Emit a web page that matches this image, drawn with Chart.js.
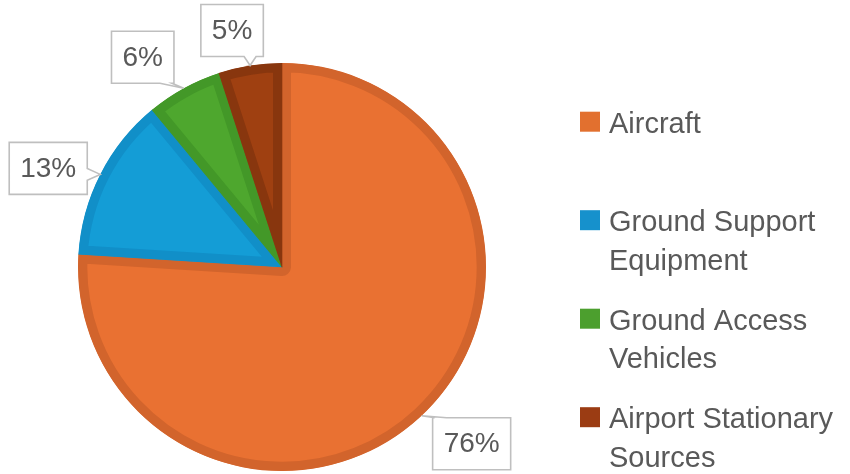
<!DOCTYPE html>
<html>
<head>
<meta charset="utf-8">
<script src="https://cdn.jsdelivr.net/npm/chart.js@4.4.1/dist/chart.umd.min.js"></script>
<style>
  html, body { margin: 0; padding: 0; background: #ffffff; }
  #wrap { width: 850px; height: 474px; position: relative; }
</style>
</head>
<body>
<div id="wrap"><canvas id="c"></canvas></div>
<script>
// Airport emission sources, share of total (%)
const categories = ['Aircraft', 'Ground Support Equipment', 'Ground Access Vehicles', 'Airport Stationary Sources'];
const shares = [76, 13, 6, 5];

// Slice fills, slice edge tones and legend swatches
const sliceColors = ['#E97132', '#149DD6', '#4EA72E', '#9F4011'];
const sliceEdges = ['#D2642C', '#118FC8', '#439828', '#88360E'];
const swatchColors = ['#E2702F', '#1691CC', '#4C9F2E', '#9B3C13'];

const TEXT_GREY = '#595959';
const LABEL_FONT = '28px "Liberation Sans", Arial, sans-serif';
const LEGEND_FONT = '29px "Liberation Sans", Arial, sans-serif';

// Where each callout box sits relative to the point on the rim it refers to
const calloutOffsets = [[50, 28], [-52, -6], [-41, -31], [-18, -35]];

function clamp(v, lo, hi) { return Math.max(lo, Math.min(hi, v)); }

// Rectangle with a small wedge pointing at (tx, ty)
function calloutPath(ctx, L, T, R, B, tx, ty) {
  const half = 6, inset = 8;
  let side;
  if (ty > B) side = 'bottom';
  else if (ty < T) side = 'top';
  else if (tx > R) side = 'right';
  else side = 'left';
  ctx.beginPath();
  ctx.moveTo(L, T);
  if (side === 'top') {
    const bx = clamp(tx, L + inset, R - inset);
    ctx.lineTo(bx - half, T); ctx.lineTo(tx, ty); ctx.lineTo(bx + half, T);
  }
  ctx.lineTo(R, T);
  if (side === 'right') {
    const by = clamp(ty, T + inset, B - inset);
    ctx.lineTo(R, by - half); ctx.lineTo(tx, ty); ctx.lineTo(R, by + half);
  }
  ctx.lineTo(R, B);
  if (side === 'bottom') {
    const bx = clamp(tx, L + inset, R - inset);
    ctx.lineTo(bx + half, B); ctx.lineTo(tx, ty); ctx.lineTo(bx - half, B);
  }
  ctx.lineTo(L, B);
  if (side === 'left') {
    const by = clamp(ty, T + inset, B - inset);
    ctx.lineTo(L, by + half); ctx.lineTo(tx, ty); ctx.lineTo(L, by - half);
  }
  ctx.closePath();
}

const calloutLabels = {
  id: 'calloutLabels',
  afterDatasetsDraw(chart) {
    const ctx = chart.ctx;
    const meta = chart.getDatasetMeta(0);
    const values = chart.data.datasets[0].data;
    const total = values.reduce((a, b) => a + b, 0);
    ctx.save();
    ctx.font = LABEL_FONT;
    meta.data.forEach((arc, i) => {
      const p = arc.getProps(['x', 'y', 'startAngle', 'endAngle', 'outerRadius'], true);
      const mid = (p.startAngle + p.endAngle) / 2;
      const tx = p.x + Math.cos(mid) * p.outerRadius;
      const ty = p.y + Math.sin(mid) * p.outerRadius;
      const text = Math.round(values[i] / total * 100) + '%';
      const w = ctx.measureText(text).width + 22;
      const h = 52;
      const cx = tx + calloutOffsets[i][0];
      const cy = ty + calloutOffsets[i][1];
      const L = cx - w / 2, R = cx + w / 2, T = cy - h / 2, B = cy + h / 2;
      calloutPath(ctx, L, T, R, B, tx, ty);
      ctx.fillStyle = '#ffffff';
      ctx.fill();
      ctx.lineWidth = 1.6;
      ctx.strokeStyle = '#BFBFBF';
      ctx.lineJoin = 'miter';
      ctx.stroke();
      ctx.fillStyle = TEXT_GREY;
      ctx.textAlign = 'center';
      ctx.textBaseline = 'middle';
      ctx.fillText(text, cx, cy + 1);
    });
    ctx.restore();
  }
};

function wrapWords(ctx, text, maxW) {
  const words = text.split(' ');
  const lines = [];
  let cur = '';
  for (const word of words) {
    const test = cur ? cur + ' ' + word : word;
    if (cur && ctx.measureText(test).width > maxW) { lines.push(cur); cur = word; }
    else cur = test;
  }
  if (cur) lines.push(cur);
  return lines;
}

// Legend on the right: swatch plus wrapped name, one slot per category
const sideLegend = {
  id: 'sideLegend',
  afterDraw(chart) {
    const ctx = chart.ctx;
    const swatchX = 580, textX = 609, firstBaseline = 132.7, step = 98.5, lineH = 38.5, sw = 20;
    ctx.save();
    ctx.font = LEGEND_FONT;
    ctx.textAlign = 'left';
    ctx.textBaseline = 'alphabetic';
    chart.data.labels.forEach((name, i) => {
      const base = firstBaseline + step * i;
      ctx.fillStyle = swatchColors[i];
      ctx.fillRect(swatchX, base - 21, sw, sw);
      ctx.fillStyle = TEXT_GREY;
      wrapWords(ctx, name, chart.width - textX - 2).forEach((line, k) => {
        ctx.fillText(line, textX, base + k * lineH);
      });
    });
    ctx.restore();
  }
};

new Chart(document.getElementById('c'), {
  type: 'pie',
  data: {
    labels: categories,
    datasets: [{
      data: shares,
      backgroundColor: sliceColors,
      borderColor: sliceEdges,
      borderWidth: 9,
      borderAlign: 'inner',
      hoverBorderWidth: 0,
      hoverOffset: 0
    }]
  },
  options: {
    responsive: true,
    maintainAspectRatio: false,
    animation: false,
    events: [],
    layout: { padding: { top: 63, left: 78, right: 364, bottom: 3 } },
    plugins: {
      legend: { display: false },
      tooltip: { enabled: false },
      title: { display: false }
    }
  },
  plugins: [calloutLabels, sideLegend]
});
</script>
</body>
</html>
